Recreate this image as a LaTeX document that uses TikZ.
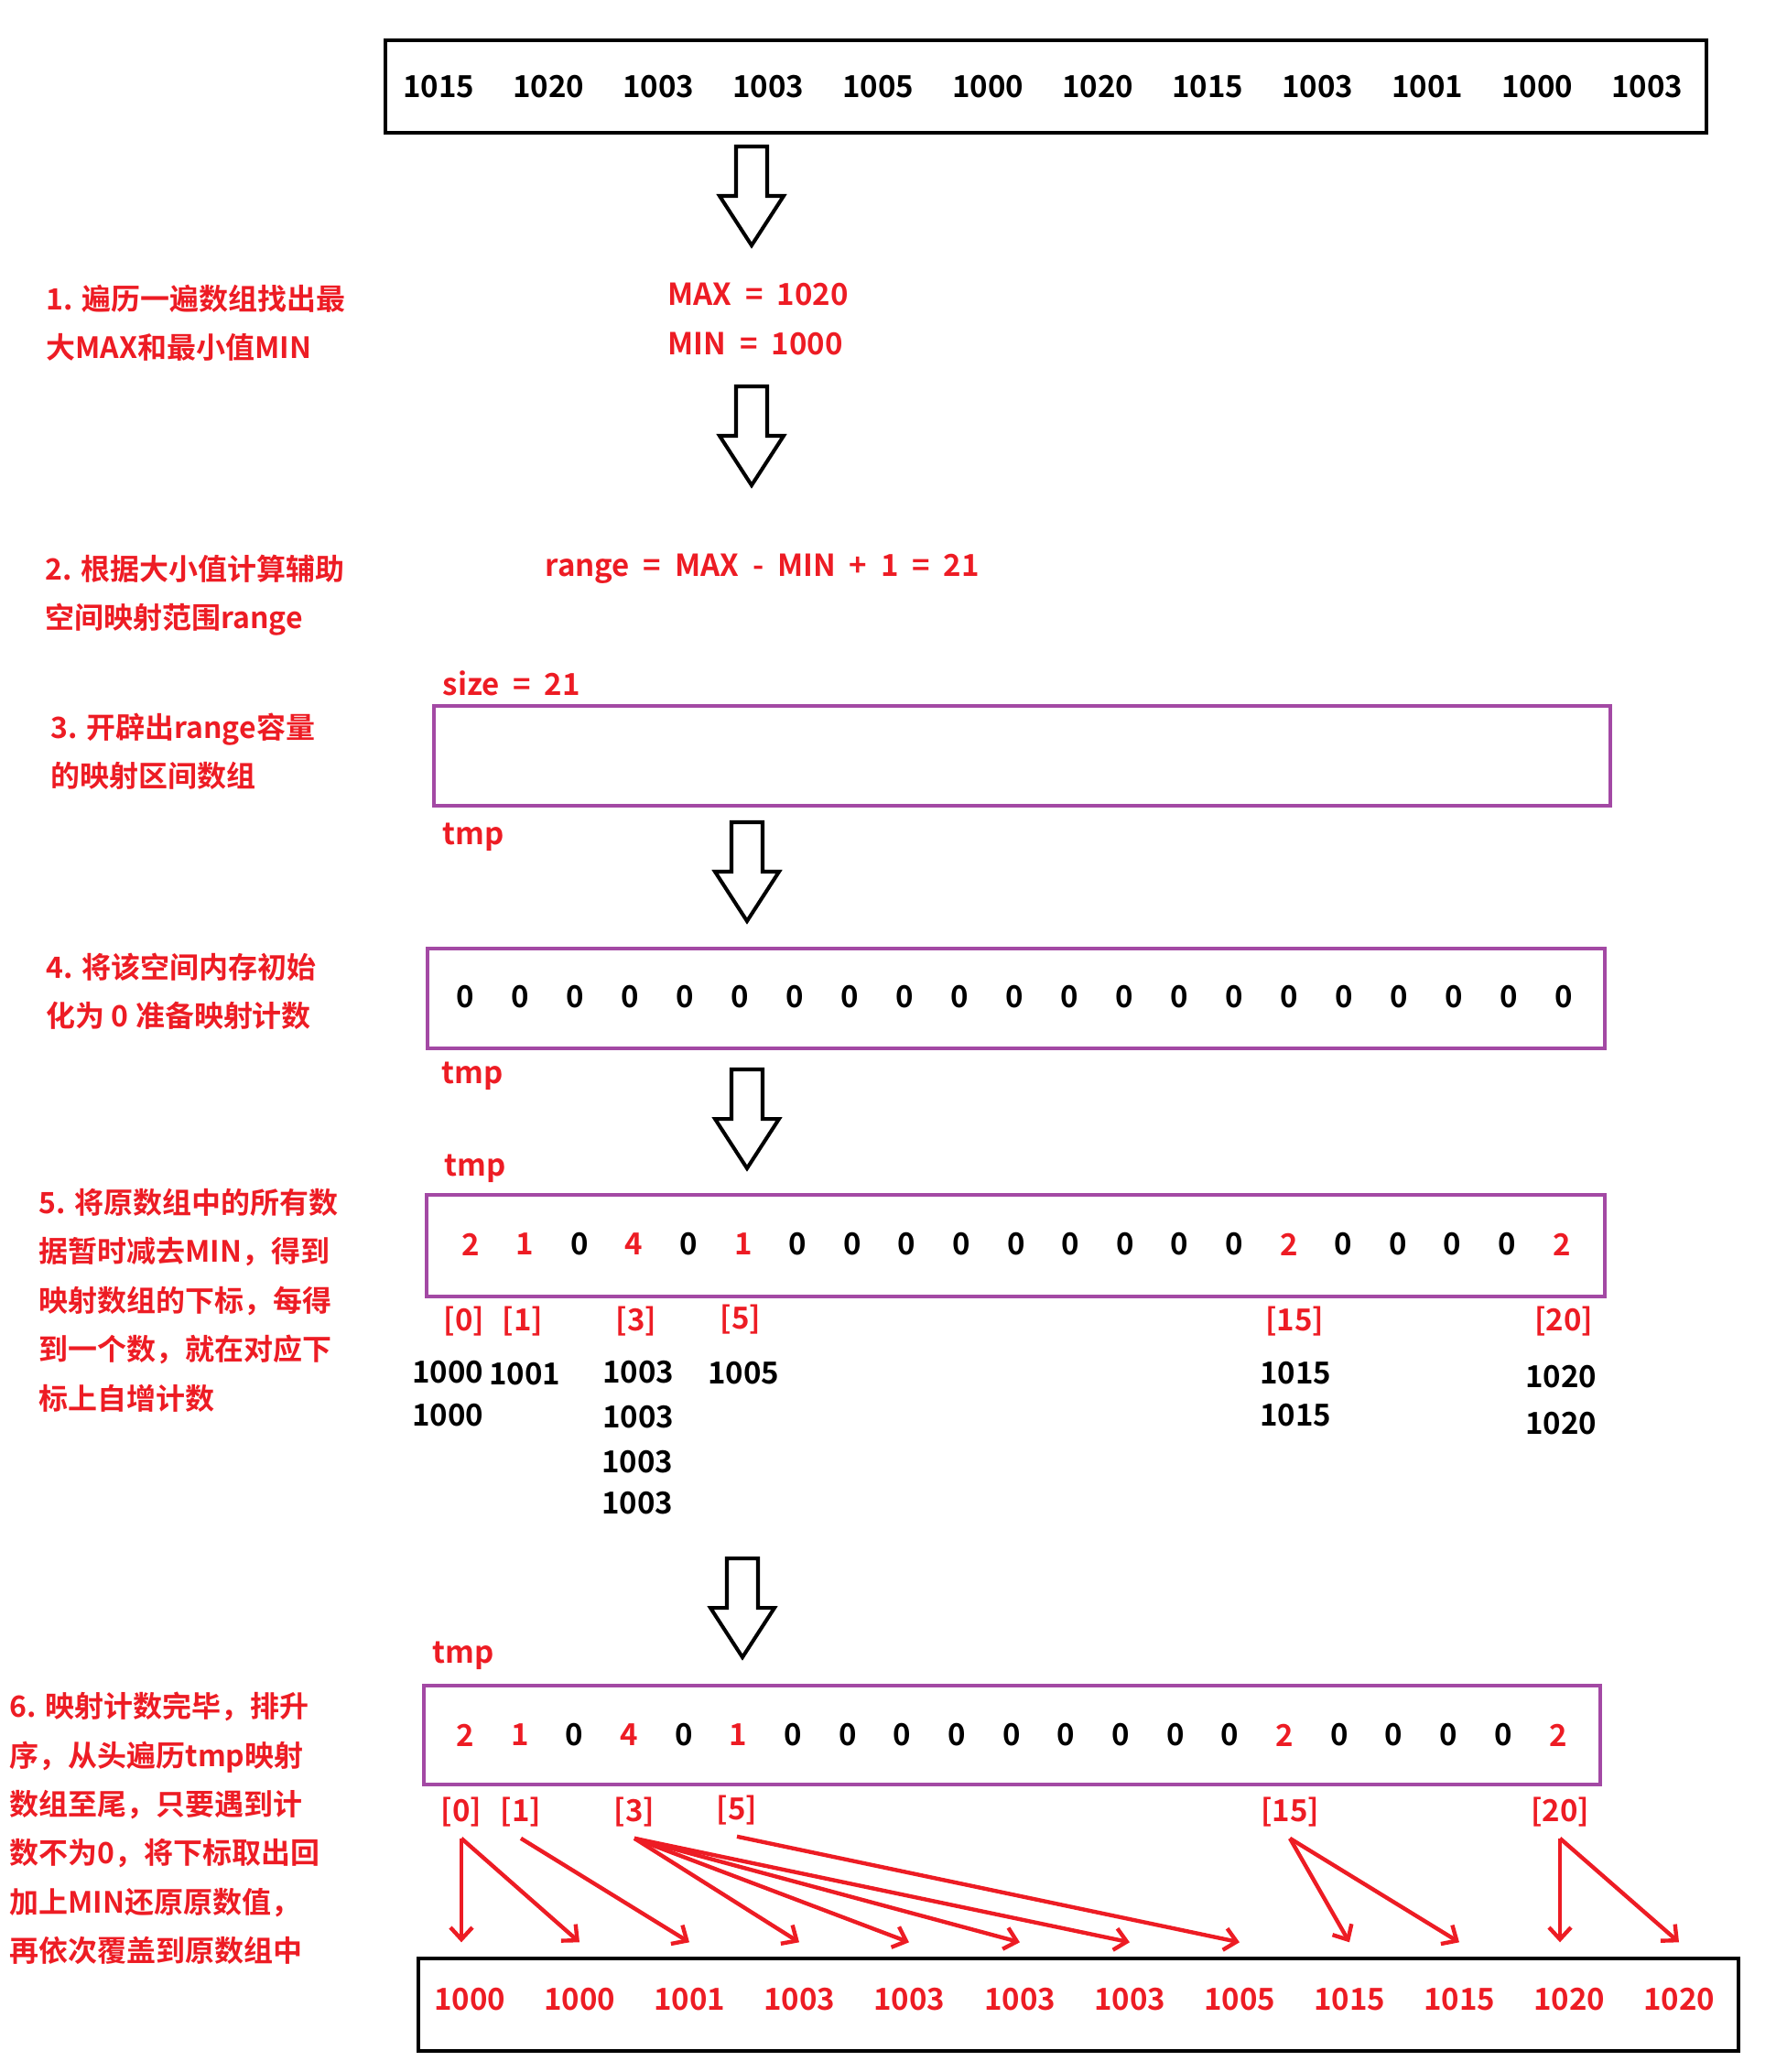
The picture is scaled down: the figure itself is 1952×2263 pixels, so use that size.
\documentclass[tikz,border=0pt]{standalone}
\usepackage{fontspec}
\setmainfont{Noto Sans CJK SC}[UprightFont=* Bold]
\usetikzlibrary{arrows.meta}
\definecolor{paintred}{HTML}{ED1C24}
\definecolor{paintpurple}{HTML}{A349A4}
\newcommand\wsp{\hspace{0.45em}}
\tikzset{
  blackbox/.style={draw=black, line width=1.25pt},
  purplebox/.style={draw=paintpurple, line width=1.15pt},
  redtext/.style={text=paintred},
  redlabel/.style={anchor=west, inner sep=0pt, text=paintred},
  note/.style={anchor=west, align=left, inner sep=0pt, text=paintred, font=\fontsize{9.1}{15.2}\selectfont},
  index/.style={text=paintred, inner ysep=1.2mm},
  outval/.style={text=paintred, minimum height=12.4mm},
  redarrow/.style={draw=paintred, line width=1.25pt, -{Straight Barb[length=1.3mm, width=2.4mm]}},
  hollowdown/.pic={\draw[line width=1.15pt, fill=white] (-17,0) -- (17,0) -- (17,54) -- (35,54) -- (0,108) -- (-35,54) -- (-17,54) -- cycle;}
}
\begin{document}
\begin{tikzpicture}[x=0.1mm, y=-0.1mm, every node/.style={font=\fontsize{9.4}{11}\selectfont, inner sep=1pt}]
\useasboundingbox (0,0) rectangle (1952,2263);

\draw[blackbox] (421,44) rectangle (1864,145);
\node (a0) at (479,95) {1015};
\node (a1) at (599,95) {1020};
\node (a2) at (719,95) {1003};
\node (a3) at (839,95) {1003};
\node (a4) at (959,95) {1005};
\node (a5) at (1079,95) {1000};
\node (a6) at (1199,95) {1020};
\node (a7) at (1319,95) {1015};
\node (a8) at (1439,95) {1003};
\node (a9) at (1559,95) {1001};
\node (a10) at (1679,95) {1000};
\node (a11) at (1799,95) {1003};

\pic at (821,160) {hollowdown};
\node[note] (s1) at (50,353) {1. 遍历一遍数组找出最\\大MAX和最小值MIN};
\node[redlabel] (maxv) at (729,321) {MAX\wsp=\wsp1020};
\node[redlabel] (minv) at (729,375) {MIN\wsp=\wsp1000};

\pic at (821,422) {hollowdown};
\node[note] (s2) at (49,650) {2. 根据大小值计算辅助\\空间映射范围range};
\node[redlabel] (rng) at (595,621) {range\wsp=\wsp MAX\wsp-\wsp MIN\wsp+\wsp1\wsp=\wsp21};

\node[redlabel] (sz) at (483,746) {size\wsp=\wsp21};
\node[note] (s3) at (55,821) {3. 开辟出range容量\\的映射区间数组};
\draw[purplebox] (474,771) rectangle (1759,880);
\node[redlabel] (tmpA) at (483,914) {tmp};

\pic at (816,898) {hollowdown};
\node[note] (s4) at (50,1083) {4. 将该空间内存初始\\化为 0 准备映射计数};
\draw[purplebox] (467,1036) rectangle (1753,1145);
\node (z0) at (508,1089) {0};
\node (z1) at (568,1089) {0};
\node (z2) at (628,1089) {0};
\node (z3) at (688,1089) {0};
\node (z4) at (748,1089) {0};
\node (z5) at (808,1089) {0};
\node (z6) at (868,1089) {0};
\node (z7) at (928,1089) {0};
\node (z8) at (988,1089) {0};
\node (z9) at (1048,1089) {0};
\node (z10) at (1108,1089) {0};
\node (z11) at (1168,1089) {0};
\node (z12) at (1228,1089) {0};
\node (z13) at (1288,1089) {0};
\node (z14) at (1348,1089) {0};
\node (z15) at (1408,1089) {0};
\node (z16) at (1468,1089) {0};
\node (z17) at (1528,1089) {0};
\node (z18) at (1588,1089) {0};
\node (z19) at (1648,1089) {0};
\node (z20) at (1708,1089) {0};
\node[redlabel] (tmpB) at (482,1175) {tmp};

\pic at (816,1168) {hollowdown};
\node[redlabel] (tmpC) at (485,1276) {tmp};
\node[note] (s5) at (42,1420) {5. 将原数组中的所有数\\据暂时减去MIN，得到\\映射数组的下标，每得\\到一个数，就在对应下\\标上自增计数};
\draw[purplebox] (466,1305) rectangle (1753,1416);
\node[redtext] (c0) at (514,1359) {2};
\node[redtext] (c1) at (573,1359) {1};
\node (c2) at (633,1359) {0};
\node[redtext] (c3) at (692,1359) {4};
\node (c4) at (752,1359) {0};
\node[redtext] (c5) at (812,1359) {1};
\node (c6) at (871,1359) {0};
\node (c7) at (931,1359) {0};
\node (c8) at (990,1359) {0};
\node (c9) at (1050,1359) {0};
\node (c10) at (1110,1359) {0};
\node (c11) at (1169,1359) {0};
\node (c12) at (1229,1359) {0};
\node (c13) at (1288,1359) {0};
\node (c14) at (1348,1359) {0};
\node[redtext] (c15) at (1408,1359) {2};
\node (c16) at (1467,1359) {0};
\node (c17) at (1527,1359) {0};
\node (c18) at (1586,1359) {0};
\node (c19) at (1646,1359) {0};
\node[redtext] (c20) at (1706,1359) {2};
\node[index] (p0) at (507,1443) {[0]};
\node[index] (p1) at (571,1443) {[1]};
\node[index] (p3) at (695,1443) {[3]};
\node[index] (p5) at (809,1441) {[5]};
\node[index] (p15) at (1414,1443) {[15]};
\node[index] (p20) at (1708,1443) {[20]};
\node (l0a) at (489,1499) {1000};
\node (l0b) at (489,1546) {1000};
\node (l1a) at (573,1501) {1001};
\node (l3a) at (697,1499) {1003};
\node (l3b) at (697,1548) {1003};
\node (l3c) at (696,1597) {1003};
\node (l3d) at (696,1642) {1003};
\node (l5a) at (812,1500) {1005};
\node (l15a) at (1415,1500) {1015};
\node (l15b) at (1415,1546) {1015};
\node (l20a) at (1705,1504) {1020};
\node (l20b) at (1705,1555) {1020};

\pic at (811,1702) {hollowdown};
\node[redlabel] (tmpD) at (472,1808) {tmp};
\node[note] (s6) at (10,1997) {6. 映射计数完毕，排升\\序，从头遍历tmp映射\\数组至尾，只要遇到计\\数不为0，将下标取出回\\加上MIN还原原数值，\\再依次覆盖到原数组中};
\draw[purplebox] (463,1841) rectangle (1748,1949);
\node[redtext] (d0) at (508,1895) {2};
\node[redtext] (d1) at (568,1895) {1};
\node (d2) at (627,1895) {0};
\node[redtext] (d3) at (687,1895) {4};
\node (d4) at (747,1895) {0};
\node[redtext] (d5) at (806,1895) {1};
\node (d6) at (866,1895) {0};
\node (d7) at (926,1895) {0};
\node (d8) at (985,1895) {0};
\node (d9) at (1045,1895) {0};
\node (d10) at (1105,1895) {0};
\node (d11) at (1164,1895) {0};
\node (d12) at (1224,1895) {0};
\node (d13) at (1284,1895) {0};
\node (d14) at (1343,1895) {0};
\node[redtext] (d15) at (1403,1895) {2};
\node (d16) at (1463,1895) {0};
\node (d17) at (1522,1895) {0};
\node (d18) at (1582,1895) {0};
\node (d19) at (1642,1895) {0};
\node[redtext] (d20) at (1702,1895) {2};
\node[index] (q0) at (504,1979) {[0]};
\node[index] (q1) at (569,1979) {[1]};
\node[index] (q3) at (693,1979) {[3]};
\node[index] (q5) at (805,1977) {[5]};
\node[index] (q15) at (1409,1979) {[15]};
\node[index] (q20) at (1704,1979) {[20]};

\draw[blackbox] (457,2139) rectangle (1899,2240);
\node[outval] (o0) at (513,2184) {1000};
\node[outval] (o1) at (633,2184) {1000};
\node[outval] (o2) at (753,2184) {1001};
\node[outval] (o3) at (873,2184) {1003};
\node[outval] (o4) at (993,2184) {1003};
\node[outval] (o5) at (1114,2184) {1003};
\node[outval] (o6) at (1234,2184) {1003};
\node[outval] (o7) at (1354,2184) {1005};
\node[outval] (o8) at (1474,2184) {1015};
\node[outval] (o9) at (1594,2184) {1015};
\node[outval] (o10) at (1714,2184) {1020};
\node[outval] (o11) at (1834,2184) {1020};

\draw[redarrow] (q0.south) -- (q0.south |- o0.north);
\draw[redarrow] (q0.south) -- (o1.north);
\draw[redarrow] (q1.south) -- (o2.north);
\draw[redarrow] (q3.south) -- (o3.north);
\draw[redarrow] (q3.south) -- (o4.north);
\draw[redarrow] (q3.south) -- (o5.north);
\draw[redarrow] (q3.south) -- (o6.north);
\draw[redarrow] (q5.south) -- (o7.north);
\draw[redarrow] (q15.south) -- (o8.north);
\draw[redarrow] (q15.south) -- (o9.north);
\draw[redarrow] (q20.south) -- (q20.south |- o10.north);
\draw[redarrow] (q20.south) -- (o11.north);
\end{tikzpicture}
\end{document}
